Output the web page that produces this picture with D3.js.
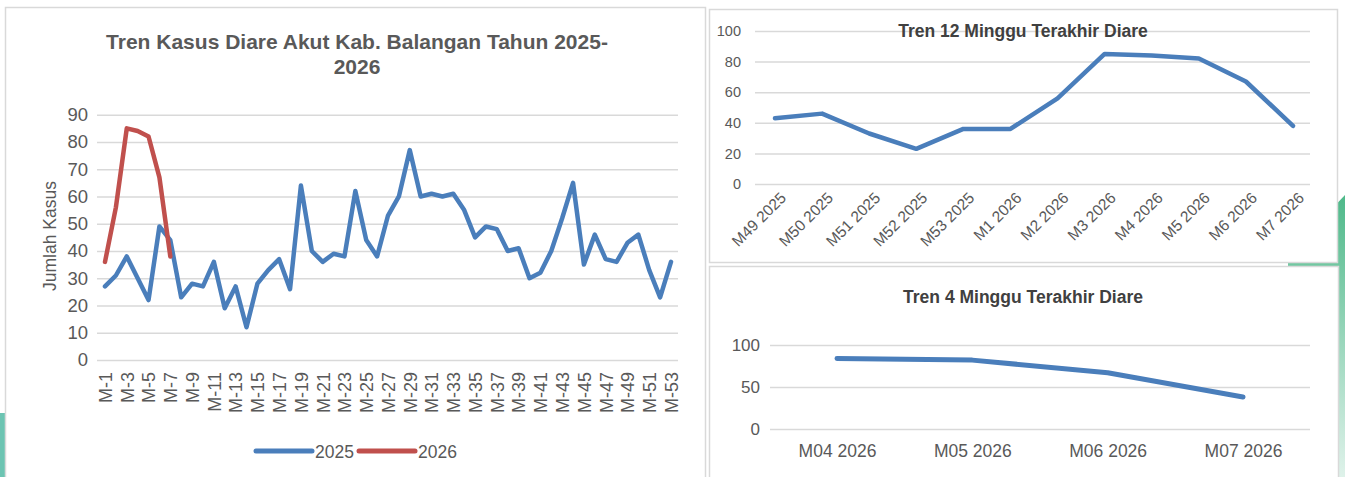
<!DOCTYPE html>
<html lang="en">
<head>
<meta charset="utf-8">
<script src="https://d3js.org/d3.v7.min.js"></script>
<style>
  body { margin: 0; background: #fff; }
  svg { display: block; font-family: "Liberation Sans", Arial, sans-serif; }
  .grid line { stroke: #d9d9d9; stroke-width: 1.5; }
  .grid text { fill: #595959; }
</style>
</head>
<body>
<script>

// weekly cases 2025 (M-1 .. M-53)
var weeks = d3.range(1, 54).map(function(i) { return "M-" + i; });
var cases2025 = [27, 31, 38, 30, 22, 49, 44, 23, 28, 27, 36, 19, 27, 12, 28, 33, 37, 26, 64, 40,
                 36, 39, 38, 62, 44, 38, 53, 60, 77, 60, 61, 60, 61, 55, 45, 49, 48, 40, 41, 30,
                 32, 40, 52, 65, 35, 46, 37, 36, 43, 46, 33, 23, 36];
var cases2026 = [36, 56, 85, 84, 82, 67, 38];

// last 12 weeks
var last12Labels = ["M49 2025", "M50 2025", "M51 2025", "M52 2025", "M53 2025", "M1 2026",
                    "M2 2026", "M3 2026", "M4 2026", "M5 2026", "M6 2026", "M7 2026"];
var last12Values = [43, 46, 33, 23, 36, 36, 56, 85, 84, 82, 67, 38];

// last 4 weeks
var last4Labels = ["M04 2026", "M05 2026", "M06 2026", "M07 2026"];
var last4Values = [84, 82, 67, 38];

var blue = "#4a7ebb", red = "#c0504d";
var width = 1345, height = 477;

var svg = d3.select("body").append("svg")
  .attr("width", width)
  .attr("height", height);

// green decoration behind the panels
var defs = svg.append("defs");
var grad = defs.append("linearGradient").attr("id", "gr")
  .attr("x1", 0).attr("y1", 0).attr("x2", 0).attr("y2", 1);
grad.append("stop").attr("offset", "0%").attr("stop-color", "#4fb98a");
grad.append("stop").attr("offset", "100%").attr("stop-color", "#dff2ea");
svg.append("path")
  .attr("d", "M1345,195 L1288,255 L1288,477 L1345,477 Z")
  .attr("fill", "url(#gr)");
svg.append("rect").attr("x", 0).attr("y", 413).attr("width", 6).attr("height", 64)
  .attr("fill", "#6cc4b2");

// panels
function panel(x, y, w, h) {
  svg.append("rect").attr("x", x).attr("y", y).attr("width", w).attr("height", h)
    .attr("fill", "#fff").attr("stroke", "#d9d9d9").attr("stroke-width", 1.5);
}
panel(5.5, 7.5, 700, 480);
panel(709.5, 9.5, 628, 253);
panel(709.5, 266.5, 629, 220);

function yGrid(g, scale, left, right, ticks, fontSize, pad) {
  var ax = d3.axisLeft(scale).tickValues(ticks).tickSize(-(right - left)).tickPadding(pad);
  g.attr("class", "grid").attr("transform", "translate(" + left + ",0)").call(ax);
  g.select(".domain").remove();
  g.selectAll("text").style("font-size", fontSize + "px");
}

// ---------- main chart ----------
var x1 = d3.scalePoint().domain(weeks).range([105, 671]);
var y1 = d3.scaleLinear().domain([0, 90]).range([360, 114.7]);

yGrid(svg.append("g"), y1, 97, 678, d3.range(0, 91, 10), 18.5, 9);

var xa1 = svg.append("g").attr("transform", "translate(0,366)")
  .call(d3.axisBottom(x1).tickValues(weeks.filter(function(d, i) { return i % 2 === 0; })).tickSize(0));
xa1.select(".domain").remove();
xa1.selectAll("text")
  .style("font-size", "18px").attr("fill", "#595959")
  .attr("text-anchor", "end")
  .attr("transform", "rotate(-90)")
  .attr("x", -6).attr("y", 0).attr("dy", "0.35em");

var line1 = d3.line().x(function(d, i) { return x1(weeks[i]); }).y(function(d) { return y1(d); });
svg.append("path").datum(cases2025).attr("d", line1)
  .attr("fill", "none").attr("stroke", blue).attr("stroke-width", 4.5)
  .attr("stroke-linejoin", "round").attr("stroke-linecap", "round");
svg.append("path").datum(cases2026).attr("d", line1)
  .attr("fill", "none").attr("stroke", red).attr("stroke-width", 4.5)
  .attr("stroke-linejoin", "round").attr("stroke-linecap", "round");

svg.append("text").attr("x", 357).attr("y", 49).attr("text-anchor", "middle")
  .style("font-size", "21px").style("font-weight", "bold").attr("fill", "#595959")
  .text("Tren Kasus Diare Akut Kab. Balangan Tahun 2025-");
svg.append("text").attr("x", 357).attr("y", 74).attr("text-anchor", "middle")
  .style("font-size", "21px").style("font-weight", "bold").attr("fill", "#595959")
  .text("2026");

svg.append("text").attr("transform", "translate(56,236) rotate(-90)").attr("text-anchor", "middle")
  .style("font-size", "17.5px").attr("fill", "#595959").text("Jumlah Kasus");

// legend
var legend = [{ name: "2025", color: blue, x: 256 }, { name: "2026", color: red, x: 359 }];
legend.forEach(function(l) {
  svg.append("line").attr("x1", l.x).attr("x2", l.x + 56).attr("y1", 451).attr("y2", 451)
    .attr("stroke", l.color).attr("stroke-width", 5).attr("stroke-linecap", "round");
  svg.append("text").attr("x", l.x + 59).attr("y", 457.5)
    .style("font-size", "17.5px").attr("fill", "#595959").text(l.name);
});

// ---------- last 12 weeks ----------
var x2 = d3.scalePoint().domain(last12Labels).range([775, 1293]);
var y2 = d3.scaleLinear().domain([0, 100]).range([184, 31]);

yGrid(svg.append("g"), y2, 755, 1310, d3.range(0, 101, 20), 14.5, 14);

var xa2 = svg.append("g").attr("transform", "translate(0,190)")
  .call(d3.axisBottom(x2).tickSize(0));
xa2.select(".domain").remove();
xa2.selectAll("text")
  .style("font-size", "15.5px").attr("fill", "#595959")
  .attr("text-anchor", "end")
  .attr("transform", "rotate(-45)")
  .attr("x", 2).attr("y", 9).attr("dy", "0.35em");

var line2 = d3.line().x(function(d, i) { return x2(last12Labels[i]); }).y(function(d) { return y2(d); });
svg.append("path").datum(last12Values).attr("d", line2)
  .attr("fill", "none").attr("stroke", blue).attr("stroke-width", 4.5)
  .attr("stroke-linejoin", "round").attr("stroke-linecap", "round");

svg.append("text").attr("x", 1023).attr("y", 37).attr("text-anchor", "middle")
  .style("font-size", "17.5px").style("font-weight", "bold").attr("fill", "#404040")
  .text("Tren 12 Minggu Terakhir Diare");

// ---------- last 4 weeks ----------
var x3 = d3.scalePoint().domain(last4Labels).range([837, 1243]);
var y3 = d3.scaleLinear().domain([0, 100]).range([429, 345]);

yGrid(svg.append("g"), y3, 770, 1310, [0, 50, 100], 17, 10);

var xa3 = svg.append("g").attr("transform", "translate(0,442)")
  .call(d3.axisBottom(x3).tickSize(0));
xa3.select(".domain").remove();
xa3.selectAll("text").style("font-size", "17.5px").attr("fill", "#595959");

var line3 = d3.line().x(function(d, i) { return x3(last4Labels[i]); }).y(function(d) { return y3(d); });
svg.append("path").datum(last4Values).attr("d", line3)
  .attr("fill", "none").attr("stroke", blue).attr("stroke-width", 5)
  .attr("stroke-linejoin", "round").attr("stroke-linecap", "round");

svg.append("text").attr("x", 1023).attr("y", 303).attr("text-anchor", "middle")
  .style("font-size", "17.5px").style("font-weight", "bold").attr("fill", "#404040")
  .text("Tren 4 Minggu Terakhir Diare");

</script>
</body>
</html>
